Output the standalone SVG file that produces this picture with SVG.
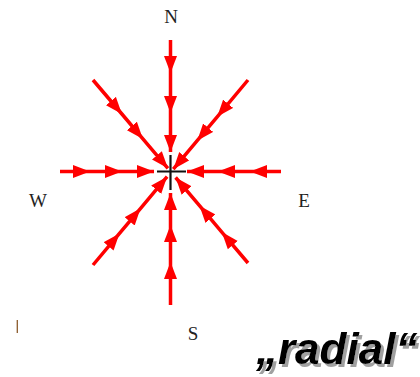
<svg xmlns="http://www.w3.org/2000/svg" width="420" height="377" viewBox="0 0 420 377">
<style>
.lbl{font-family:"Liberation Serif","Times New Roman",serif;font-size:19px;fill:#222;text-anchor:middle}
.ray{fill:none;stroke:#ff0000;stroke-width:3.5;marker-mid:url(#ah);marker-end:url(#ah)}
.title{font-family:"Liberation Sans",Arial,sans-serif;font-weight:bold;font-style:italic;font-size:44px}
</style>
<defs>
<marker id="ah" markerUnits="userSpaceOnUse" markerWidth="18" markerHeight="14" refX="17" refY="7" orient="auto">
<path d="M0,0.5 L17,7 L0,13.5 z" fill="#ff0000"/>
</marker>
<filter id="shadow" x="-5%" y="-10%" width="115%" height="130%">
<feOffset in="SourceAlpha" dx="3" dy="3" result="off"/>
<feFlood flood-color="#a0a0a0"/>
<feComposite in2="off" operator="in" result="sh"/>
<feMerge><feMergeNode in="sh"/><feMergeNode in="SourceGraphic"/></feMerge>
</filter>
</defs>
<rect width="420" height="377" fill="#fff"/>
<g id="center">
<path d="M157,171.5 H186 M170.5,155 V190" stroke="#111" stroke-width="2.2"/>
</g>
<g id="connectors">
<path class="ray" d="M170.5,40 L170.5,73 L170.5,113 L170.5,152"/>
<path class="ray" d="M60,171.5 L90,171.5 L122,171.5 L154,171.5"/>
<path class="ray" d="M281,171.5 L250,171.5 L218,171.5 L187,171.5"/>
<path class="ray" d="M170.5,305 L170.5,262 L170.5,225 L170.5,193"/>
<path class="ray" d="M93,80 L121.9,114 L142.9,138.9 L167.9,168.3"/>
<path class="ray" d="M248,80 L217.2,116.8 L197.2,140.7 L173.3,169.2"/>
<path class="ray" d="M93,265 L119.5,233.4 L140.6,208.3 L167.1,176.7"/>
<path class="ray" d="M248,263 L221.8,232.1 L199.5,205.7 L175.6,177.5"/>
</g>
<g id="label-N"><text class="lbl" x="171" y="23">N</text></g>
<g id="label-W"><text class="lbl" x="38" y="207">W</text></g>
<g id="label-E"><text class="lbl" x="304" y="207">E</text></g>
<g id="label-S"><text class="lbl" x="193" y="340">S</text></g>
<line x1="17.3" y1="320" x2="17.3" y2="333" stroke="#8b5a2b" stroke-width="1.3"/>
<g id="title">
<text class="title" x="256" y="364" fill="#000" filter="url(#shadow)">„radial“</text>
</g>
</svg>
